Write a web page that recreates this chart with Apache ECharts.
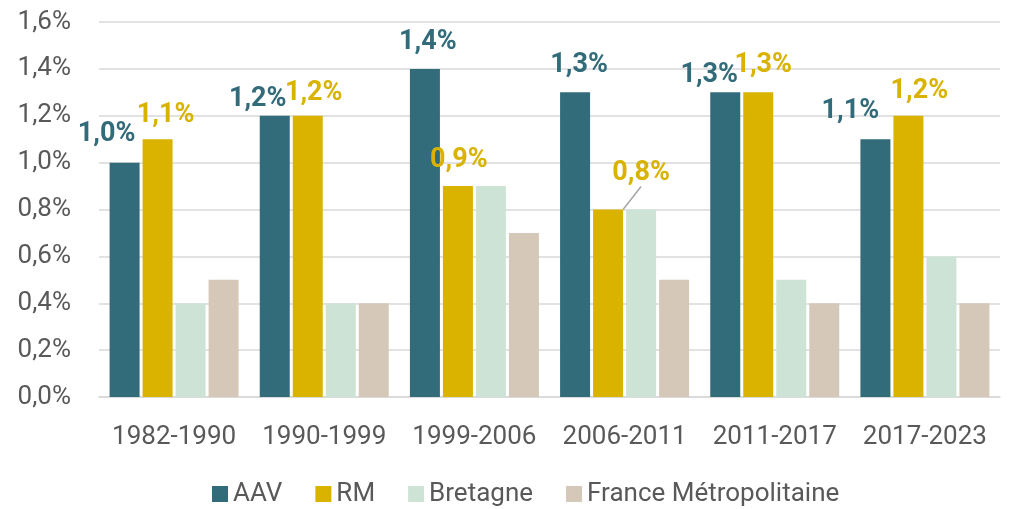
<!DOCTYPE html>
<html>
<head>
<meta charset="utf-8">
<script src="https://cdn.jsdelivr.net/npm/echarts@6/dist/echarts.min.js"></script>
<style>
  html, body { margin: 0; padding: 0; background: #fff; }
  #chart { width: 1011px; height: 509px; }
</style>
</head>
<body>
<div id="chart"></div>
<script>
// données
var periodes = ['1982-1990', '1990-1999', '1999-2006', '2006-2011', '2011-2017', '2017-2023'];
var aav = [1.0, 1.2, 1.4, 1.3, 1.3, 1.1];
var rm = [1.1, 1.2, 0.9, 0.8, 1.3, 1.2];
var bretagne = [0.4, 0.4, 0.9, 0.8, 0.5, 0.6];
var france = [0.5, 0.4, 0.7, 0.5, 0.4, 0.4];

var FONT = 'Roboto, "Noto Sans", sans-serif';
var TXT = '#595959';

// décalage des étiquettes [dx, dy] par série (AAV, RM)
var labelShift = {
  0: [[-18, -10], [-17, 2], [3, -8], [4, -9], [-16, 1], [-25, -9]],
  1: [[8, -5], [6, -4], [1, -7], [33, -18], [5, -9], [11, -6]]
};
// étiquette reliée par un trait (RM 2006-2011)
var leaderIndex = 3;

var chart = echarts.init(document.getElementById('chart'));

function fmt(p) {
  return p.value.toFixed(1).replace('.', ',') + '%';
}

function barSerie(name, data, color, withLabel) {
  var s = {
    name: name,
    type: 'bar',
    data: data,
    barWidth: 30,
    barGap: '10%',
    itemStyle: { color: color },
    emphasis: { disabled: true }
  };
  if (withLabel) {
    s.label = {
      show: true,
      position: 'top',
      formatter: fmt,
      fontFamily: FONT,
      fontWeight: 'bold',
      fontSize: 27,
      color: color
    };
    s.labelLine = { show: false };
  }
  return s;
}

var serieRM = barSerie('RM', rm, '#d9b300', true);
serieRM.data = rm.map(function (v, i) {
  if (i !== leaderIndex) return v;
  return { value: v, labelLine: { show: true, lineStyle: { color: '#a6a6a6', width: 1.5 } } };
});

var option = {
  animation: false,
  textStyle: { fontFamily: FONT },
  grid: { left: 99, right: 11, top: 22, bottom: 112 },
  legend: {
    left: 207,
    top: 476,
    icon: 'rect',
    itemWidth: 16,
    itemHeight: 16,
    itemGap: 33,
    textStyle: { fontFamily: FONT, fontSize: 26, color: TXT },
    data: ['AAV', 'RM', 'Bretagne', 'France Métropolitaine']
  },
  xAxis: {
    type: 'category',
    data: periodes,
    axisTick: { show: false },
    axisLine: { lineStyle: { color: '#d9d9d9', width: 1.5 } },
    axisLabel: { fontFamily: FONT, fontSize: 26, color: TXT, margin: 27, interval: 0 }
  },
  yAxis: {
    type: 'value',
    min: 0,
    max: 1.6,
    interval: 0.2,
    axisLine: { show: false },
    axisTick: { show: false },
    splitLine: { lineStyle: { color: '#d9d9d9', width: 1.5 } },
    axisLabel: {
      fontFamily: FONT,
      fontSize: 26,
      color: TXT,
      margin: 28,
      formatter: function (v) { return v.toFixed(1).replace('.', ',') + '%'; }
    }
  },
  labelLayout: function (params) {
    var sh = labelShift[params.seriesIndex];
    if (!sh) return {};
    var d = sh[params.dataIndex];
    return { dx: d[0], dy: d[1] };
  },
  series: [
    barSerie('AAV', aav, '#326b79', true),
    serieRM,
    barSerie('Bretagne', bretagne, '#cde3d5', false),
    barSerie('France Métropolitaine', france, '#d6c8b8', false)
  ]
};

chart.setOption(option);
</script>
</body>
</html>
